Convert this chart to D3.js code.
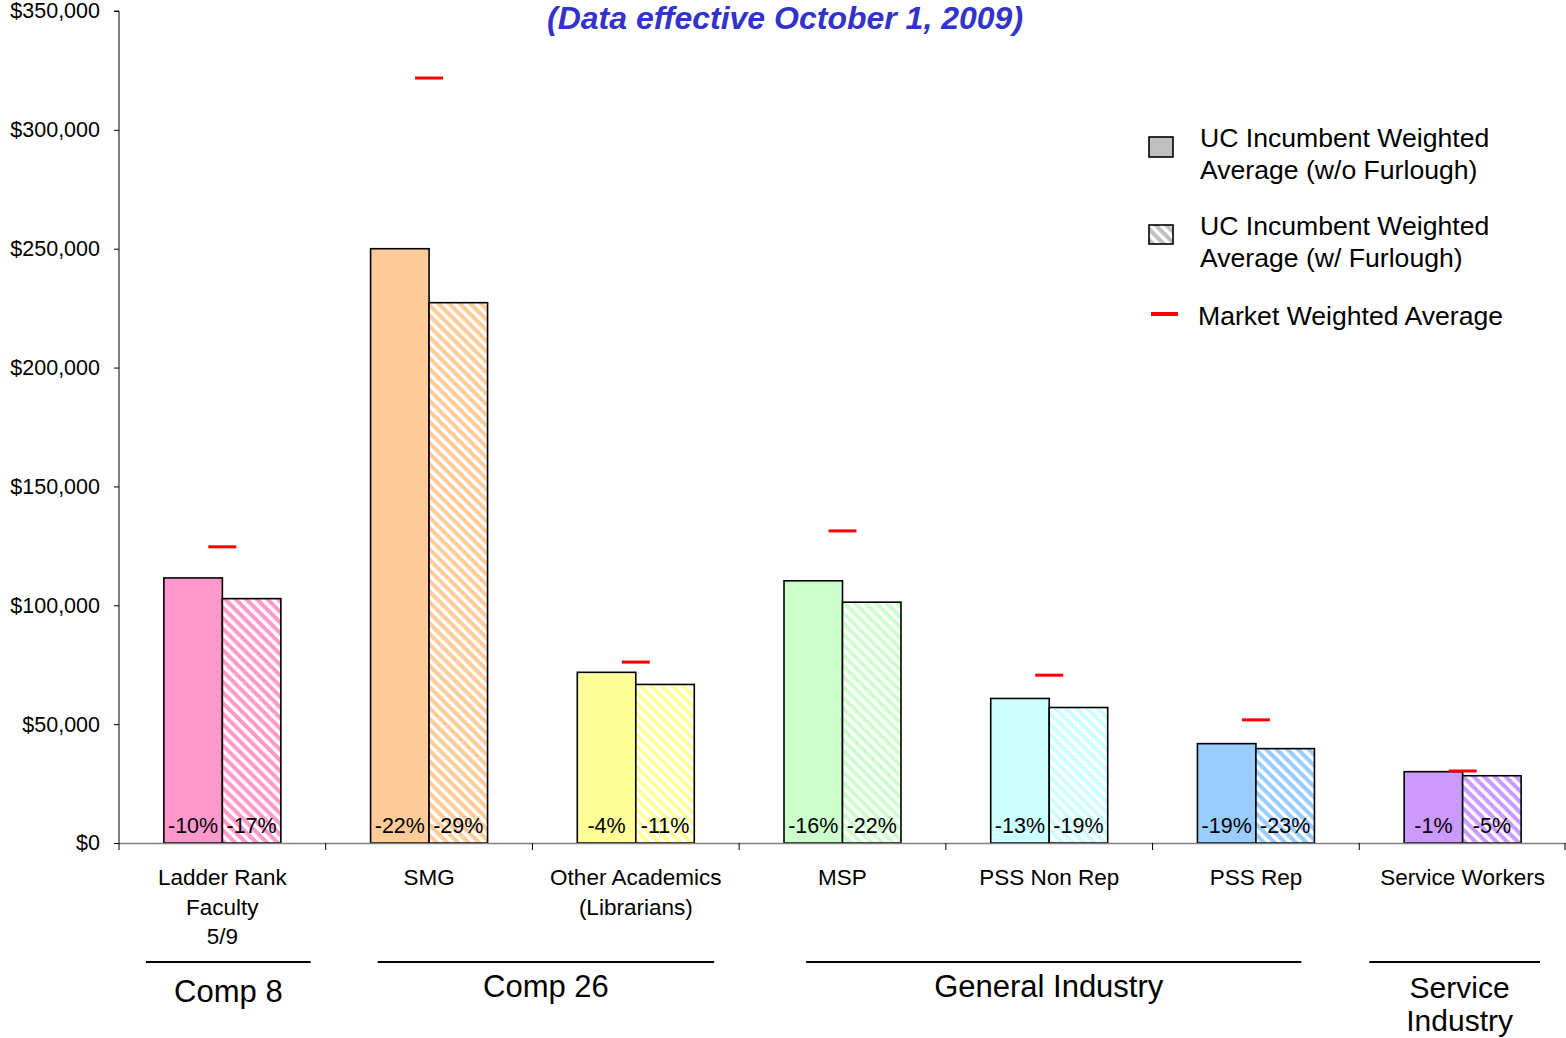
<!DOCTYPE html>
<html><head><meta charset="utf-8">
<script src="https://cdn.jsdelivr.net/npm/d3@7"></script>
<style>body{margin:0;background:#fff;} svg{display:block;font-family:"Liberation Sans",Arial,sans-serif;}</style>
</head><body>
<svg id="c" width="1566" height="1038"></svg>
<script>
const categories = ["Ladder Rank|Faculty|5/9","SMG","Other Academics|(Librarians)","MSP","PSS Non Rep","PSS Rep","Service Workers"];
const withoutFurlough = [111500, 250000, 71800, 110300, 60800, 41800, 30000];
const withFurlough = [102800, 227300, 66700, 101300, 57000, 39700, 28300];
const marketAvg = [124600, 321800, 76100, 131300, 70600, 51800, 30300];
const pctWithout = ["-10%","-22%","-4%","-16%","-13%","-19%","-1%"];
const pctWith = ["-17%","-29%","-11%","-22%","-19%","-23%","-5%"];
const barColors = ["#FF99CC","#FFCC99","#FFFF99","#CCFFCC","#CCFFFF","#99CCFF","#CC99FF"];
const yTicks = [0,50000,100000,150000,200000,250000,300000,350000];
const groups = ["Comp 8","Comp 26","General Industry","Service|Industry"];
const groupFirst = [0,1,3,6];
const groupLast = [0,2,5,6];
const title = "(Data effective October 1, 2009)";
const legendLabels = ["UC Incumbent Weighted|Average (w/o Furlough)","UC Incumbent Weighted|Average (w/ Furlough)","Market Weighted Average"];

// layout
const groupInsetL = [27,52,67,10], groupInsetR = [15,25,58,26];
const groupLabelY = [1002,997,997,998];
const groupLabelDx = [0,0,-5,5];
const groupLineGap = [34,34,34,33];
const groupFont = [31,31,31,30];

const svg = d3.select("#c");
const x0 = d3.scaleBand().domain(d3.range(categories.length)).range([119,1566]).padding(0);
const x1 = d3.scaleBand().domain([0,1]).range([0,x0.bandwidth()]).paddingInner(0).paddingOuter(0.767);
const y = d3.scaleLinear().domain([0,350000]).range([843,11]);

const defs = svg.append("defs");
function hatch(id, c){
  const p = defs.append("pattern").attr("id",id).attr("patternUnits","userSpaceOnUse")
    .attr("width",7.5).attr("height",7.5).attr("patternTransform","rotate(-45)");
  p.append("rect").attr("width",7.5).attr("height",7.5).attr("fill",c);
  p.append("rect").attr("x",0).attr("width",3.4).attr("height",7.5).attr("fill","#fff");
}
barColors.forEach((c,i)=>hatch("h"+i,c));
hatch("hleg","#C0C0C0");

// title
svg.append("text").attr("x",785).attr("y",29).attr("text-anchor","middle")
  .attr("font-size",32).attr("font-weight","bold").attr("font-style","italic").attr("fill","#3333CC").text(title);

// y axis
const yAxis = svg.append("g").attr("transform","translate(119,0)")
  .call(d3.axisLeft(y).tickValues(yTicks).tickSize(5).tickPadding(14).tickFormat(d=>"$"+d3.format(",")(d)));
yAxis.select(".domain").attr("stroke","#000").attr("d","M-5,11H0V843");
yAxis.selectAll(".tick line").attr("stroke","#000");
yAxis.selectAll(".tick text").attr("font-size",21.5).attr("fill","#000").attr("font-family","Liberation Sans, Arial, sans-serif");

// bars
const g = svg.append("g");
categories.forEach((c,i)=>{
  const bx = x0(i);
  g.append("rect").attr("x",bx+x1(0)).attr("y",y(withoutFurlough[i])).attr("width",x1.bandwidth()).attr("height",y(0)-y(withoutFurlough[i]))
    .attr("fill",barColors[i]).attr("stroke","#000").attr("stroke-width",1.6);
  g.append("rect").attr("x",bx+x1(1)).attr("y",y(withFurlough[i])).attr("width",x1.bandwidth()).attr("height",y(0)-y(withFurlough[i]))
    .attr("fill","url(#h"+i+")").attr("stroke","#000").attr("stroke-width",1.6);
  const cx = bx + x0.bandwidth()/2;
  g.append("line").attr("x1",cx-14).attr("x2",cx+14).attr("y1",y(marketAvg[i])).attr("y2",y(marketAvg[i]))
    .attr("stroke","#FF0000").attr("stroke-width",3);
  g.append("text").attr("x",bx+x1(0)+x1.bandwidth()/2).attr("y",833).attr("text-anchor","middle").attr("font-size",21.5).text(pctWithout[i]);
  g.append("text").attr("x",bx+x1(1)+x1.bandwidth()/2).attr("y",833).attr("text-anchor","middle").attr("font-size",21.5).text(pctWith[i]);
});

// x axis
const xAxis = svg.append("g");
xAxis.append("line").attr("x1",119).attr("x2",1566).attr("y1",843.5).attr("y2",843.5).attr("stroke","#808080").attr("stroke-width",1.5);
d3.range(categories.length+1).forEach(k=>{
  const xx = k<categories.length ? x0(k) : 1565;
  xAxis.append("line").attr("x1",xx).attr("x2",xx).attr("y1",843).attr("y2",850).attr("stroke","#000").attr("stroke-width",1);
});
categories.forEach((c,i)=>{
  const t = svg.append("text").attr("text-anchor","middle").attr("font-size",22.5);
  c.split("|").forEach((line,j)=>{
    t.append("tspan").attr("x",x0(i)+x0.bandwidth()/2).attr("y",885+j*29.5).text(line);
  });
});

// groups
groups.forEach((gname,k)=>{
  const xa = x0(groupFirst[k]) + groupInsetL[k];
  const xb = x0(groupLast[k]) + x0.bandwidth() - groupInsetR[k];
  svg.append("line").attr("x1",xa).attr("x2",xb).attr("y1",962).attr("y2",962).attr("stroke","#000").attr("stroke-width",2);
  const t = svg.append("text").attr("text-anchor","middle").attr("font-size",groupFont[k]);
  gname.split("|").forEach((line,j)=>{
    t.append("tspan").attr("x",(xa+xb)/2+groupLabelDx[k]).attr("y",groupLabelY[k]+j*groupLineGap[k]).text(line);
  });
});

// legend
const lg = svg.append("g");
lg.append("rect").attr("x",1149).attr("y",137).attr("width",24).attr("height",20).attr("fill","#C0C0C0").attr("stroke","#000").attr("stroke-width",1.6);
lg.append("rect").attr("x",1149).attr("y",225).attr("width",24).attr("height",19).attr("fill","url(#hleg)").attr("stroke","#000").attr("stroke-width",1.6);
lg.append("line").attr("x1",1151).attr("x2",1178).attr("y1",314).attr("y2",314).attr("stroke","#FF0000").attr("stroke-width",4);
const legY = [147,235,325];
const legX = [1200,1200,1198];
legendLabels.forEach((l,k)=>{
  const t = lg.append("text").attr("font-size",26.6);
  l.split("|").forEach((line,j)=>{
    t.append("tspan").attr("x",legX[k]).attr("y",legY[k]+j*32).text(line);
  });
});
</script>
</body></html>
